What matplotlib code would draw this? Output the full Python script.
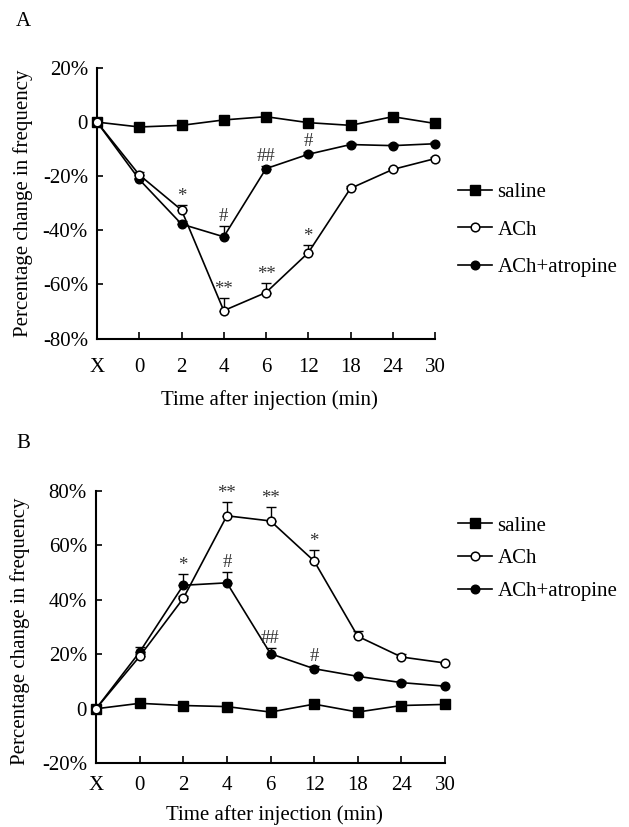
import matplotlib
matplotlib.use("Agg")
import matplotlib.pyplot as plt
import numpy as np

plt.rcParams['font.family'] = ['Liberation Serif', 'DejaVu Serif']
plt.rcParams['font.size'] = 15

x_labels = ['X', '0', '2', '4', '6', '12', '18', '24', '30']
series_names = ['saline', 'ACh', 'ACh+atropine']

# Panel A
A_saline = [0, -1.8, -1.2, 0.8, 2.0, -0.2, -1.2, 2.0, -0.5]
A_ach = [0, -19.5, -32.5, -69.7, -63.0, -48.3, -24.5, -17.5, -13.5]
A_atro = [0, -21.2, -37.7, -42.4, -17.2, -11.9, -8.3, -8.7, -8.0]
A_ach_err = [0, 1.0, 2.0, 4.5, 3.5, 3.0, 1.0, 0.5, 0.5]
A_atro_err = [0, 0.5, 1.0, 4.0, 1.0, 1.0, 0.5, 0.5, 0.5]
A_yticks = [20, 0, -20, -40, -60, -80]
A_ytick_labels = ['20%', '0', '-20%', '-40%', '-60%', '-80%']
A_marks = [('ACh', 2, '*'), ('ACh', 3, '**'), ('ACh', 4, '**'), ('ACh', 5, '*'),
           ('atro', 3, '#'), ('atro', 4, '##'), ('atro', 5, '#')]

# Panel B
B_saline = [0, 2.0, 1.2, 0.8, -1.2, 1.7, -1.2, 1.2, 1.6]
B_ach = [0, 19.2, 40.5, 70.8, 68.9, 54.2, 26.6, 19.0, 16.8]
B_atro = [0, 20.8, 45.3, 46.2, 20.2, 14.7, 11.9, 9.6, 8.3]
B_ach_err = [0, 1.0, 1.0, 5.0, 5.0, 4.0, 2.0, 1.0, 0.5]
B_atro_err = [0, 2.0, 4.0, 4.0, 2.0, 1.0, 0.5, 0.5, 0.5]
B_yticks = [80, 60, 40, 20, 0, -20]
B_ytick_labels = ['80%', '60%', '40%', '20%', '0', '-20%']
B_marks = [('atro', 2, '*'), ('ACh', 3, '**'), ('atro', 3, '#'), ('ACh', 4, '**'),
           ('ACh', 5, '*'), ('atro', 4, '##'), ('atro', 5, '#')]

fig = plt.figure(figsize=(6.29, 8.27), dpi=100)

def panel(rect, saline, ach, atro, ach_err, atro_err, yticks, yticklabels,
          marks, xpad, ylabel_y, xlabel_y, leg_y, leg_spacing):
    ax = fig.add_axes(rect)
    x = np.arange(len(x_labels))
    lw = 1.2
    ax.errorbar(x, ach, yerr=[np.zeros(len(x)), ach_err], fmt='none',
                ecolor='black', elinewidth=1.0, capsize=3.5, capthick=1.0, zorder=2)
    ax.errorbar(x, atro, yerr=[np.zeros(len(x)), atro_err], fmt='none',
                ecolor='black', elinewidth=1.0, capsize=3.5, capthick=1.0, zorder=2)
    ax.plot(x, saline, color='black', lw=lw, marker='s', ms=7,
            mfc='black', mec='black', label=series_names[0], clip_on=False, zorder=3)
    ax.plot(x, atro, color='black', lw=lw, marker='o', ms=6.2,
            mfc='black', mec='black', label=series_names[2], clip_on=False, zorder=3)
    ax.plot(x, ach, color='black', lw=lw, marker='o', ms=6.2,
            mfc='white', mec='black', mew=1.1, label=series_names[1], clip_on=False, zorder=4)
    data = {'ACh': (ach, ach_err), 'atro': (atro, atro_err)}
    for key, i, txt in marks:
        vals, errs = data[key]
        off = 0 if txt.startswith('*') else 1
        ax.annotate(txt, (x[i], vals[i] + errs[i]), xytext=(0, off),
                    textcoords='offset points', ha='center', va='bottom',
                    fontsize=13.5, color='#333333')
    ax.set_xlim(0, len(x_labels) - 1)
    ax.set_ylim(min(yticks), max(yticks))
    ax.set_xticks(x)
    ax.set_xticklabels(x_labels)
    ax.set_yticks(yticks)
    ax.set_yticklabels(yticklabels)
    ax.spines['top'].set_visible(False)
    ax.spines['right'].set_visible(False)
    for s in ['left', 'bottom']:
        ax.spines[s].set_linewidth(1.5)
    ax.tick_params(axis='x', direction='in', length=5, width=1.2, pad=xpad, labelsize=15)
    ax.tick_params(axis='y', direction='in', length=4, width=1.2, pad=6.5, labelsize=15)
    ax.set_ylabel('Percentage change in frequency', fontsize=15, va='center')
    ax.yaxis.set_label_coords(-0.219, ylabel_y)
    ax.set_xlabel('Time after injection (min)', fontsize=15, va='center')
    ax.xaxis.set_label_coords(0.51, xlabel_y)
    handles, labels = ax.get_legend_handles_labels()
    order = [0, 2, 1]
    ax.legend([handles[i] for i in order], [labels[i] for i in order],
              loc='center left', bbox_to_anchor=(458 / 629, leg_y),
              bbox_transform=fig.transFigure, frameon=False, borderpad=0,
              borderaxespad=0, handlelength=1.65, handletextpad=0.25,
              labelspacing=leg_spacing, fontsize=15)
    return ax

axA = panel([97 / 629, (827 - 338.5) / 827, 338 / 629, 270.5 / 827],
            A_saline, A_ach, A_atro, A_ach_err, A_atro_err, A_yticks, A_ytick_labels,
            A_marks, 14.3, 0.5, -0.228, (827 - 230) / 827, 0.86)
axB = panel([96 / 629, (827 - 763.3) / 827, 349 / 629, 272.6 / 827],
            B_saline, B_ach, B_atro, B_ach_err, B_atro_err, B_yticks, B_ytick_labels,
            B_marks, 8.8, 0.485, -0.19, (827 - 558.5) / 827, 0.63)

fig.text(23.5 / 629, 1 - 21.5 / 827, 'A', ha='center', va='center', fontsize=15)
fig.text(23 / 629, 1 - 443.5 / 827, 'B', ha='center', va='center', fontsize=15)

fig.savefig('out.png', dpi=100)
